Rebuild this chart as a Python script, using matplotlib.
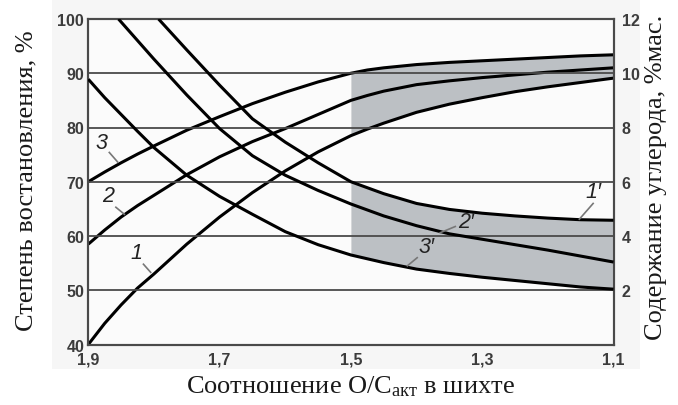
import numpy as np
import matplotlib
matplotlib.use("Agg")
import matplotlib.pyplot as plt
from matplotlib.patches import Rectangle

# ---- data ----
x_ticks = [1.9, 1.7, 1.5, 1.3, 1.1]
x_tick_labels = ["1,9", "1,7", "1,5", "1,3", "1,1"]
left_ticks = [40, 50, 60, 70, 80, 90, 100]
right_ticks = [2, 4, 6, 8, 10, 12]

# increasing curves (left axis: degree of reduction, %)
x_inc = [1.9, 1.875, 1.85, 1.825, 1.8, 1.75, 1.7, 1.65, 1.6, 1.55, 1.5, 1.475, 1.45, 1.4, 1.35, 1.3, 1.25, 1.2, 1.15, 1.1]
curve1 = [40.0, 43.9, 47.3, 50.4, 53.0, 58.5, 63.5, 68.0, 72.0, 75.5, 78.5, 79.7, 80.8, 82.8, 84.3, 85.5, 86.6, 87.5, 88.3, 89.1]
curve2 = [58.5, 61.1, 63.5, 65.6, 67.5, 71.3, 74.6, 77.4, 79.8, 82.4, 85.0, 85.9, 86.7, 87.9, 88.6, 89.2, 89.7, 90.2, 90.6, 91.0]
curve3 = [70.0, 71.8, 73.5, 75.1, 76.6, 79.5, 82.0, 84.4, 86.5, 88.4, 90.0, 90.6, 91.0, 91.6, 92.0, 92.3, 92.6, 92.9, 93.2, 93.4]

# decreasing curves (right axis: carbon content, %mass)
x_1p = [1.793, 1.75, 1.7, 1.65, 1.6, 1.55, 1.5, 1.45, 1.4, 1.35, 1.3, 1.25, 1.2, 1.15, 1.1]
curve1p = [12.0, 10.86, 9.56, 8.32, 7.46, 6.70, 6.00, 5.56, 5.20, 4.98, 4.84, 4.74, 4.66, 4.60, 4.58]
x_2p = [1.854, 1.8, 1.75, 1.7, 1.65, 1.6, 1.55, 1.5, 1.45, 1.4, 1.35, 1.3, 1.25, 1.2, 1.15, 1.1]
curve2p = [12.0, 10.52, 9.20, 7.96, 6.96, 6.24, 5.68, 5.18, 4.74, 4.38, 4.08, 3.88, 3.68, 3.48, 3.26, 3.04]
x_3p = [1.9, 1.875, 1.85, 1.825, 1.8, 1.75, 1.7, 1.65, 1.6, 1.55, 1.5, 1.45, 1.4, 1.35, 1.3, 1.25, 1.2, 1.15, 1.1]
curve3p = [9.78, 9.10, 8.48, 7.86, 7.26, 6.24, 5.46, 4.80, 4.16, 3.68, 3.30, 3.02, 2.78, 2.62, 2.48, 2.36, 2.24, 2.12, 2.04]

band_from = 1.5

# ---- figure ----
plt.rcParams['mathtext.fontset'] = 'custom'
plt.rcParams['mathtext.rm'] = 'Liberation Serif'
plt.rcParams['mathtext.it'] = 'Liberation Serif:italic'

fig = plt.figure(figsize=(6.78, 4.06), dpi=100)
fig.patch.set_facecolor('white')
bg = Rectangle((52/678, 1-370/406), (640-52)/678, 370/406,
               transform=fig.transFigure, facecolor='#f6f6f6',
               edgecolor='none', zorder=-10)
fig.patches.append(bg)

ax = fig.add_axes([88.3/678, 1-345.5/406, (613.5-88.3)/678, (345.5-20)/406])
ax.set_facecolor('#fbfbfb')
ax2 = ax.twinx()

ax.set_xlim(1.9, 1.1)
ax.set_ylim(40, 100)
ax2.set_ylim(0, 12)

tick_font = dict(family='Liberation Sans', size=11.5, weight='bold', color='#3c3c3c')
ax.set_xticks(x_ticks)
ax.set_xticklabels(x_tick_labels, **tick_font)
ax.set_yticks(left_ticks)
ax.set_yticklabels([str(v) for v in left_ticks], **tick_font)
ax2.set_yticks(right_ticks)
ax2.set_yticklabels([str(v) for v in right_ticks], **tick_font)
ax.tick_params(axis='y', length=0, pad=3)
ax.tick_params(axis='x', length=0, pad=5)
ax2.tick_params(length=0, pad=6)

# grid drawn by ax2 so it lies above both bands
ax.grid(False)
ax2.grid(True, color='#4a4a4a', lw=1.3)
ax2.set_xticks(x_ticks)
ax2.set_axisbelow(True)

for a in (ax, ax2):
    for s in a.spines.values():
        s.set_color('#4a4a4a')
        s.set_linewidth(1.5)

# bands
xi = np.array(x_inc)
m = xi <= band_from + 1e-9
ax.fill_between(xi[m], np.array(curve1)[m], np.array(curve3)[m],
                color='#bcc0c4', lw=0, zorder=0.5)
x3 = np.array(x_3p)
x1 = np.array(x_1p)
m3 = x3 <= band_from + 1e-9
m1 = x1 <= band_from + 1e-9
ax2.fill_between(x3[m3], np.array(curve3p)[m3], np.array(curve1p)[m1],
                 color='#bcc0c4', lw=0, zorder=0.5)

lk = dict(color='black', lw=2.2, solid_joinstyle='round', solid_capstyle='butt', zorder=3)
ax.plot(x_inc, curve1, **lk)
ax.plot(x_inc, curve2, **lk)
ax.plot(x_inc, curve3, **lk)
ax2.plot(x_1p, curve1p, **lk)
ax2.plot(x_2p, curve2p, **lk)
ax2.plot(x_3p, curve3p, **lk)

# curve labels with leader lines
lab_font = dict(family='Liberation Sans', style='italic', size=15.5, color='#222222')
def label(a, text, txy, p0, p1):
    a.text(txy[0], txy[1], text, ha='center', va='center', **lab_font)
    a.plot([p0[0], p1[0]], [p0[1], p1[1]], color='#777777', lw=1.2, zorder=4)

label(ax, "3", (1.880, 77.2), (1.868, 75.4), (1.855, 73.6))
label(ax, "2", (1.870, 67.4), (1.858, 65.3), (1.845, 64.0))
label(ax, "1", (1.826, 57.0), (1.816, 54.8), (1.805, 53.3))
label(ax2, "1\u2032", (1.130, 5.65), (1.131, 5.2), (1.152, 4.62))
label(ax2, "2\u2032", (1.324, 4.55), (1.341, 4.35), (1.364, 4.12))
label(ax2, "3\u2032", (1.385, 3.6), (1.399, 3.2), (1.414, 2.9))

title_font = dict(family='Liberation Serif', size=19, color='#1a1a1a')
ax.set_ylabel("Степень востановления, %", **title_font)
ax2.set_ylabel("Содержание углерода, %мас.", **title_font)
ax.yaxis.set_label_coords(-0.096, 0.505)
ax2.yaxis.set_label_coords(1.060, 0.515)
ax.set_xlabel(r"Соотношение O/C$_{\mathrm{акт}}$ в шихте", labelpad=5, **title_font)

fig.savefig("out.png", dpi=100)
